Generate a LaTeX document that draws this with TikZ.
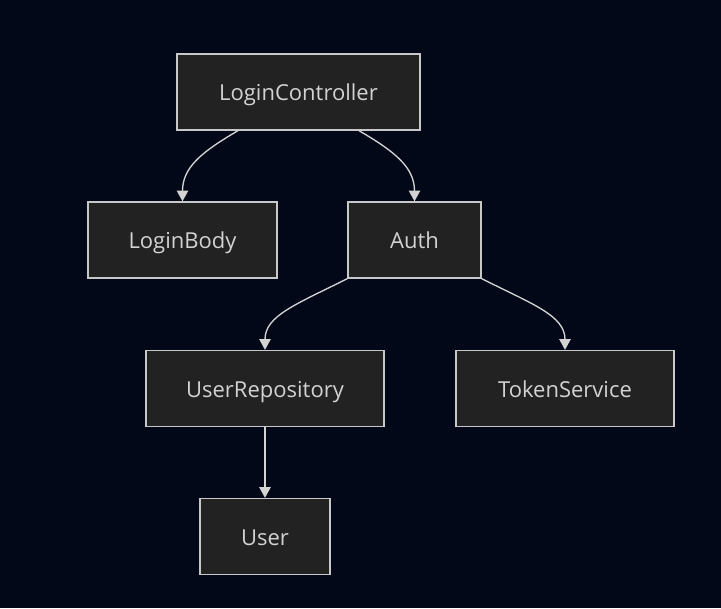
\documentclass[tikz,border=0pt]{standalone}
\usepackage{fontspec}
\setmainfont{Open Sans}
\usetikzlibrary{arrows.meta}
\definecolor{bgnavy}{RGB}{2,8,23}
\definecolor{boxfill}{RGB}{34,34,34}
\definecolor{boxline}{RGB}{200,200,200}
\definecolor{edgeline}{RGB}{211,211,211}
\definecolor{labeltext}{RGB}{210,210,210}

\begin{document}
\begin{tikzpicture}[x=0.75pt,y=0.75pt,yscale=-1,xscale=1,
    box/.style={draw=boxline, fill=boxfill, line width=1pt, text=labeltext, inner sep=0pt,
        minimum height=57pt, text height=15pt, text depth=2pt, font=\fontsize{16.5}{19}\selectfont},
    edge/.style={draw=edgeline, line width=1pt, -{Triangle[width=8.5pt,length=8pt]}}]
        %set diagram left start at 0, and has size 721 x 608
        \fill [bgnavy] (0,0) rectangle (721,608);

        %Shape: Rectangle [LoginController]
        \node [box, minimum width=182.25pt] (lc) at (298.5,92) {LoginController};
        %Shape: Rectangle [LoginBody]
        \node [box, minimum width=141.75pt] (lb) at (182.5,240) {LoginBody};
        %Shape: Rectangle [Auth]
        \node [box, minimum width=99.75pt] (auth) at (414.5,240) {Auth};
        %Shape: Rectangle [UserRepository]
        \node [box, minimum width=178.5pt] (urepo) at (265,388.5) {UserRepository};
        %Shape: Rectangle [TokenService]
        \node [box, minimum width=163.5pt] (tsvc) at (565,388.5) {TokenService};
        %Shape: Rectangle [User]
        \node [box, minimum width=97.5pt] (usr) at (265,536.5) {User};

        %Curve Lines
        \draw [edge] ([shift={(-60.5,0)}]lc.south) .. controls +(-36,21) and +(0,-34) .. (lb.north);
        \draw [edge] ([shift={(60.5,0)}]lc.south) .. controls +(36,21) and +(0,-34) .. (auth.north);
        \draw [edge] (auth.south west) .. controls +(-52,26) and +(0,-34) .. (urepo.north);
        \draw [edge] (auth.south east) .. controls +(52,26) and +(0,-34) .. (tsvc.north);
        %Straight Lines
        \draw [edge] (urepo.south) -- (usr.north);

\end{tikzpicture}
\end{document}
